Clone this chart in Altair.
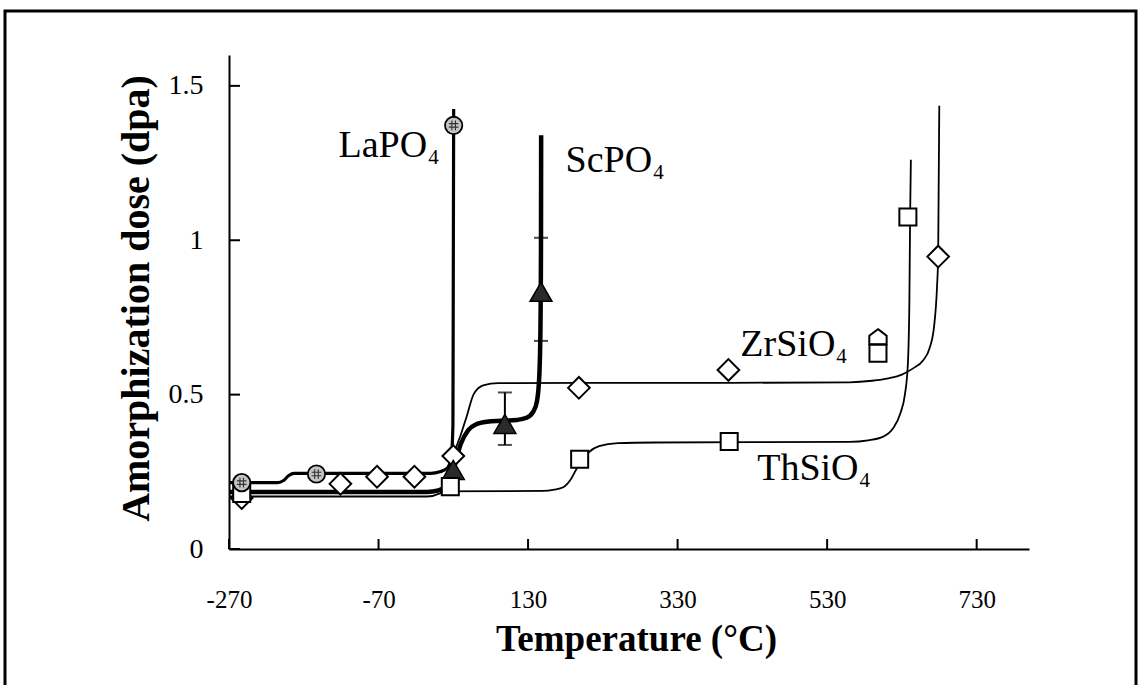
import altair as alt
import pandas as pd

# ---------------- axis ticks ----------------
x_ticks = [-270, -70, 130, 330, 530, 730]
y_ticks = [0, 0.5, 1, 1.5]

# ---------------- fitted curves ----------------
la_curve_x = [-270, -205, -197, -190, -183, 0, 12, 22, 27, 29.5, 30.0, 30.5]
la_curve_y = [0.215, 0.215, 0.222, 0.238, 0.245, 0.245, 0.25, 0.262, 0.29, 0.40, 0.90, 1.425]

sc_curve_x = [-270, -5, 10, 20, 30, 40, 50, 60, 75, 95, 115, 128, 137, 142, 145, 146.5, 147.0, 147.3, 147.5]
sc_curve_y = [0.185, 0.185, 0.19, 0.205, 0.256, 0.34, 0.385, 0.403, 0.412, 0.415, 0.418, 0.425, 0.445, 0.48, 0.56, 0.70, 0.83, 1.0, 1.34]

zr_curve_x = [-270, -5, 12, 22, 30, 40, 48, 57, 70, 90, 200, 400, 560, 590, 612, 630, 645, 658, 667, 673, 677, 678.5, 680]
zr_curve_y = [0.17, 0.17, 0.18, 0.21, 0.30, 0.37, 0.43, 0.50, 0.53, 0.537, 0.538, 0.538, 0.54, 0.545, 0.553, 0.565, 0.585, 0.61, 0.65, 0.72, 0.85, 0.95, 1.436]

th_curve_x = [-270, 150, 165, 177, 187, 195, 203, 212, 225, 250, 300, 560, 585, 605, 618, 628, 634, 638, 640, 641, 642]
th_curve_y = [0.185, 0.188, 0.192, 0.20, 0.225, 0.26, 0.29, 0.315, 0.333, 0.343, 0.345, 0.347, 0.352, 0.364, 0.39, 0.44, 0.50, 0.60, 0.80, 1.08, 1.261]

# ---------------- measured points ----------------
la_pts_x = [-253, -153, 30.5]
la_pts_y = [0.215, 0.243, 1.372]

sc_pts_x = [30, 99, 147.3]
sc_pts_y = [0.256, 0.405, 0.833]

zr_pts_x = [-253, -121, -72, -22, 30, 198, 398, 678.5]
zr_pts_y = [0.165, 0.211, 0.234, 0.234, 0.301, 0.522, 0.58, 0.947]
zr_extra_x = [598]
zr_extra_y = [0.684]

th_pts_x = [-253, 26, 199, 399, 638, 598]
th_pts_y = [0.18, 0.202, 0.291, 0.348, 1.075, 0.634]

# ScPO4 error bars
sc_err_x = [99, 147.3]
sc_err_lo = [0.337, 0.674]
sc_err_hi = [0.507, 1.008]
sc_err_stem = [True, False]

# ---------------- labels ----------------
label_text = ["LaPO", "ScPO", "ZrSiO", "ThSiO"]
label_sub = ["4", "4", "4", "4"]
label_x = [-5, 296, 541, 572]
label_y = [1.271, 1.222, 0.626, 0.224]

W, H = 800, 494
SERIF = "Liberation Serif"

xs = alt.Scale(domain=[-270, 800], nice=False, zero=False)
ys = alt.Scale(domain=[0, 1.6], nice=False, zero=False)

axis_x = alt.Axis(
    values=x_ticks, labelExpr="'' + datum.value", ticks=False, grid=False,
    domainColor="black", domainWidth=2,
    labelFont=SERIF, labelFontSize=25, labelColor="black", labelPadding=38,
    labelFlush=False, labelOverlap=False,
    title="Temperature (°C)", titleFont=SERIF, titleFontSize=37,
    titleFontWeight="bold", titleColor="black", titleX=407, titleY=101,
    titleBaseline="alphabetic", titleAlign="center",
)
axis_y = alt.Axis(
    values=y_ticks, labelExpr="'' + datum.value", ticks=False, grid=False,
    domainColor="black", domainWidth=2,
    labelFont=SERIF, labelFontSize=28, labelColor="black", labelPadding=26,
    labelFlush=False, labelOverlap=False,
    title="Amorphization dose (dpa)", titleFont=SERIF, titleFontSize=40,
    titleFontWeight="bold", titleColor="black", titleX=-81, titleY=243,
    titleAngle=270, titleBaseline="alphabetic", titleAlign="center",
)


def X(field="x"):
    return alt.X(f"{field}:Q", scale=xs, axis=axis_x)


def Y(field="y"):
    return alt.Y(f"{field}:Q", scale=ys, axis=axis_y)


def curve(xv, yv, width):
    d = pd.DataFrame({"x": xv, "y": yv, "i": list(range(len(xv)))})
    return alt.Chart(d).mark_line(
        color="black", strokeWidth=width, interpolate="monotone"
    ).encode(x=X(), y=Y(), order="i:Q")


def points(xv, yv, **style):
    d = pd.DataFrame({"x": xv, "y": yv})
    return alt.Chart(d).mark_point(filled=False, **style).encode(x=X(), y=Y())


one = pd.DataFrame({"a": [0]})

frame = alt.Chart(one).mark_rect(
    fillOpacity=0, stroke="black", strokeWidth=3
).encode(x=alt.value(-224), x2=alt.value(907), y=alt.value(-44), y2=alt.value(700))

xt = alt.Chart(pd.DataFrame({"x": x_ticks})).mark_rule(color="black", strokeWidth=2).encode(
    x=X(), y=alt.value(H), y2=alt.value(H - 10))
yt = alt.Chart(pd.DataFrame({"y": y_ticks})).mark_rule(color="black", strokeWidth=2).encode(
    y=Y(), x=alt.value(0), x2=alt.value(11))

lines = [
    curve(th_curve_x, th_curve_y, 1.8),
    curve(zr_curve_x, zr_curve_y, 1.8),
    curve(sc_curve_x, sc_curve_y, 4.5),
    curve(la_curve_x, la_curve_y, 3.2),
]

err_df = pd.DataFrame({"x": sc_err_x, "lo": sc_err_lo, "hi": sc_err_hi, "stem": sc_err_stem})
err_stem = alt.Chart(err_df).transform_filter("datum.stem").mark_rule(
    color="black", strokeWidth=2).encode(x=X(), y=Y("lo"), y2="hi:Q")
err_lo = alt.Chart(err_df).mark_tick(
    orient="horizontal", color="black", size=14, thickness=2).encode(x=X(), y=Y("lo"))
err_hi = alt.Chart(err_df).mark_tick(
    orient="horizontal", color="black", size=14, thickness=2).encode(x=X(), y=Y("hi"))

la_circ = points(la_pts_x, la_pts_y, shape="circle", size=300, fill="#c4c4c4",
                 fillOpacity=1, stroke="black", strokeWidth=1.8, opacity=1)
la_grid = points(la_pts_x, la_pts_y,
                 shape="M-0.6,-0.22H0.6M-0.6,0.22H0.6M-0.22,-0.6V0.6M0.22,-0.6V0.6",
                 size=260, stroke="#333333", strokeWidth=1.1, opacity=1)
sc_tri = points(sc_pts_x, sc_pts_y, shape="triangle-up", size=480, fill="#2a2a2a",
                fillOpacity=1, stroke="black", strokeWidth=1.5, opacity=1)
zr_dia = points(zr_pts_x, zr_pts_y, shape="diamond", size=470, fill="white",
                fillOpacity=1, stroke="black", strokeWidth=2, opacity=1)
zr_house = points(zr_extra_x, zr_extra_y, shape="M0,-1L1,-0.25V0.75H-1V-0.25Z",
                  size=300, fill="white", fillOpacity=1, stroke="black",
                  strokeWidth=2, opacity=1)
th_sq = points(th_pts_x, th_pts_y, shape="square", size=290, fill="white",
               fillOpacity=1, stroke="black", strokeWidth=2, opacity=1)

lab_df = pd.DataFrame({"x": label_x, "y": label_y, "t": label_text, "s": label_sub})
lab_main = alt.Chart(lab_df).mark_text(
    font=SERIF, fontSize=38, color="black", align="right", baseline="alphabetic"
).encode(x=X(), y=Y(), text="t:N")
lab_sub = alt.Chart(lab_df).mark_text(
    font=SERIF, fontSize=21, color="black", align="left", baseline="alphabetic", dx=1, dy=7
).encode(x=X(), y=Y(), text="s:N")

chart = alt.layer(
    frame, *lines, err_stem, err_lo, err_hi,
    zr_dia, zr_house, sc_tri, th_sq, la_circ, la_grid,
    xt, yt, lab_main, lab_sub,
).properties(
    width=W, height=H,
    autosize=alt.AutoSizeParams(type="none"),
    padding={"left": 229, "top": 55, "right": 111, "bottom": 136},
    background="white",
).configure_view(strokeWidth=0)

chart.save("out.html", embed_options={"renderer": "svg", "actions": False})
